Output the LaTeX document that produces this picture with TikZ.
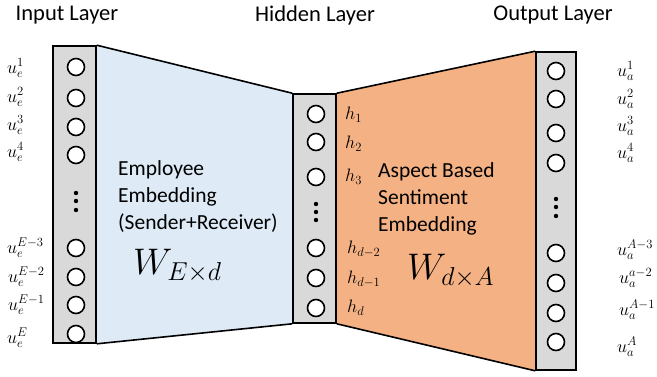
\RequirePackage{fix-cm}
\documentclass[tikz,border=0pt]{standalone}
\usepackage{fontspec}
\setmainfont{Carlito}
\usetikzlibrary{backgrounds}
\definecolor{lblue}{HTML}{DEEBF7}
\definecolor{salmon}{HTML}{F4B183}
\definecolor{bargray}{HTML}{D9D9D9}
\begin{document}
\begin{tikzpicture}[x=1pt,y=-1pt,
  bar/.style={draw=black, line width=1.6pt, fill=bargray, rectangle, inner sep=0pt},
  neuron/.style={circle, draw=black, line width=1.6pt, fill=white, minimum size=17pt, inner sep=0pt},
  dotn/.style={circle, fill=black, minimum size=4.4pt, inner sep=0pt},
  title/.style={font=\fontsize{22.5}{26}\selectfont},
  lab/.style={anchor=west, font=\fontsize{18}{21}\selectfont, inner sep=0pt},
  desc/.style={anchor=west, align=left, inner sep=0pt, font=\fontsize{21.5}{27}\selectfont},
  wlab/.style={anchor=west, inner sep=0pt, font=\fontsize{37}{44}\selectfont},
  edge/.style={line width=1.6pt, line join=round}]
\useasboundingbox (0,0) rectangle (657,376);

% titles
\node[title] (tin) at (67,15) {Input Layer};
\node[title] (thid) at (315,15) {Hidden Layer};
\node[title] (tout) at (553,15) {Output Layer};

% bars
\node[bar, minimum width=43pt, minimum height=297pt] (inbar) at (74.5,194.5) {};
\node[bar, minimum width=43pt, minimum height=229pt] (hid) at (314.5,208.5) {};
\node[bar, minimum width=40pt, minimum height=318pt] (outbar) at (556,211) {};

% trapezoids
\begin{scope}[on background layer]
\fill[lblue] (inbar.north east) -- (hid.north west) -- (hid.south west) -- (inbar.south east) -- cycle;
\fill[salmon] (hid.north east) -- (outbar.north west) -- (outbar.south west) -- (hid.south east) -- cycle;
\end{scope}
\draw[edge] (inbar.north east) -- (hid.north west);
\draw[edge] (inbar.south east) -- (hid.south west);
\draw[edge] (hid.north east) -- (outbar.north west);
\draw[edge] (hid.south east) -- (outbar.south west);

% input neurons
\node[neuron] (i1) at (76,67) {};
\node[neuron] (i2) at (76,98) {};
\node[neuron] (i3) at (76,127) {};
\node[neuron] (i4) at (76,155) {};
\node[dotn] (id1) at (76,193) {};
\node[dotn] (id2) at (76,201) {};
\node[dotn] (id3) at (76,210) {};
\node[neuron] (i5) at (76,248) {};
\node[neuron] (i6) at (76,277) {};
\node[neuron] (i7) at (76,305) {};
\node[neuron] (i8) at (76,334) {};

% hidden neurons
\node[neuron] (h1) at (316,114) {};
\node[neuron] (h2) at (316,142) {};
\node[neuron] (h3) at (316,177) {};
\node[dotn] (hd1) at (316,204) {};
\node[dotn] (hd2) at (316,212) {};
\node[dotn] (hd3) at (316,220) {};
\node[neuron] (h4) at (316,248) {};
\node[neuron] (h5) at (316,278) {};
\node[neuron] (h6) at (316,308) {};

% output neurons
\node[neuron] (o1) at (556,71) {};
\node[neuron] (o2) at (556,99) {};
\node[neuron] (o3) at (556,133) {};
\node[neuron] (o4) at (556,163) {};
\node[dotn] (od1) at (556,199) {};
\node[dotn] (od2) at (556,207) {};
\node[dotn] (od3) at (556,216) {};
\node[neuron] (o5) at (556,253) {};
\node[neuron] (o6) at (556,283) {};
\node[neuron] (o7) at (556,313) {};
\node[neuron] (o8) at (556,342) {};

% input labels
\node[lab] (li1) at (7,68) {$u_e^1$};
\node[lab] (li2) at (7,97) {$u_e^2$};
\node[lab] (li3) at (7,125) {$u_e^3$};
\node[lab] (li4) at (7,152) {$u_e^4$};
\node[lab] (li5) at (7,248) {$u_e^{E-3}$};
\node[lab] (li6) at (8,277) {$u_e^{E-2}$};
\node[lab] (li7) at (8,305) {$u_e^{E-1}$};
\node[lab] (li8) at (7,338) {$u_e^{E}$};

% hidden labels
\node[lab] (lh1) at (345,115) {$h_1$};
\node[lab] (lh2) at (345,144) {$h_2$};
\node[lab] (lh3) at (345,177) {$h_3$};
\node[lab] (lh4) at (347,249) {$h_{d-2}$};
\node[lab] (lh5) at (347,279) {$h_{d-1}$};
\node[lab] (lh6) at (347,308) {$h_d$};

% output labels
\node[lab] (lo1) at (617,71) {$u_a^1$};
\node[lab] (lo2) at (617,99) {$u_a^2$};
\node[lab] (lo3) at (617,126) {$u_a^3$};
\node[lab] (lo4) at (617,153) {$u_a^4$};
\node[lab] (lo5) at (617,250) {$u_a^{A-3}$};
\node[lab] (lo6) at (619,278) {$u_a^{a-2}$};
\node[lab] (lo7) at (619,310) {$u_a^{A-1}$};
\node[lab] (lo8) at (617,347) {$u_a^{A}$};

% descriptions
\node[desc] (embE) at (118,197) {Employee\\Embedding\\(Sender+Receiver)};
\node[desc] (embA) at (378,199) {Aspect Based\\Sentiment\\Embedding};
\node[wlab] (wE) at (133,266) {$W_{E\times d}$};
\node[wlab] (wA) at (407,271) {$W_{d\times A}$};
\end{tikzpicture}
\end{document}
